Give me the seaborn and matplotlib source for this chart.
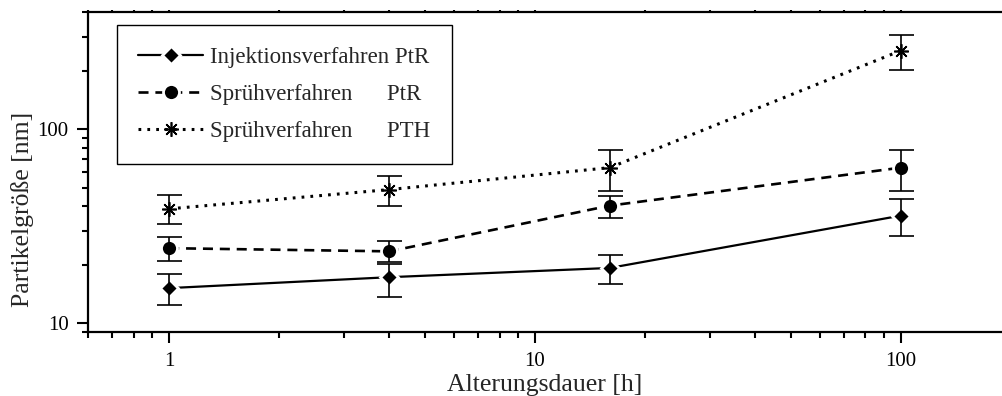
import numpy as np
import pandas as pd
import matplotlib
matplotlib.use("Agg")
import matplotlib.pyplot as plt
import seaborn as sns
from matplotlib.ticker import LogLocator, NullFormatter, FixedLocator, FixedFormatter

# Ageing time [h]
hours = [1, 4, 16, 100]

# Particle size [nm] per preparation route, with lower/upper error limits
inj_ptr = [15.2, 17.3, 19.3, 35.9]
inj_ptr_lo = [12.4, 13.7, 16.0, 28.3]
inj_ptr_hi = [17.9, 20.2, 22.6, 43.8]

spr_ptr = [24.4, 23.5, 40.4, 63.4]
spr_ptr_lo = [21.0, 20.8, 34.7, 48.0]
spr_ptr_hi = [28.0, 26.7, 45.2, 78.1]

spr_pth = [38.9, 48.9, 63.4, 254.0]
spr_pth_lo = [32.5, 40.1, 48.0, 202.0]
spr_pth_hi = [45.6, 57.3, 78.1, 307.0]

labels = ["Injektionsverfahren PtR",
          "Sprühverfahren      PtR",
          "Sprühverfahren      PTH"]

sns.set_theme(style="white")
plt.rcParams["font.family"] = ["Liberation Serif", "DejaVu Serif"]

fig = plt.figure(figsize=(10.02, 3.96), dpi=100)
ax = fig.add_axes([88 / 1002, (396 - 332.3) / 396, (1002 - 88) / 1002, 320 / 396])

series = [
    (inj_ptr, inj_ptr_lo, inj_ptr_hi, dict(marker="D", ms=9.5, mec="white", mew=2.0,
                                           linestyle="-", lw=1.6)),
    (spr_ptr, spr_ptr_lo, spr_ptr_hi, dict(marker="o", ms=11.5, mec="white", mew=2.0,
                                           linestyle=(0, (3.8, 2.6)), lw=1.9)),
    (spr_pth, spr_pth_lo, spr_pth_hi, dict(marker=(8, 2, 0), ms=10.5, mec="black", mew=1.2,
                                           linestyle=(0, (0.9, 2.0)), lw=2.2)),
]

handles = []
for (vals, lo, hi, style), lab in zip(series, labels):
    df = pd.DataFrame({"t": hours, "d": vals})
    n_before = len(ax.lines)
    sns.lineplot(data=df, x="t", y="d", ax=ax, color="black", mfc="black",
                 zorder=2, **style)
    handles.append(ax.lines[n_before])
    vals_a = np.asarray(vals)
    yerr = np.vstack([vals_a - np.asarray(lo), np.asarray(hi) - vals_a])
    ax.errorbar(hours, vals, yerr=yerr, fmt="none", ecolor="black",
                elinewidth=1.2, capsize=9, capthick=1.2, zorder=3)

ax.set_xscale("log")
ax.set_yscale("log")
ax.set_xlim(0.6, 189)
ax.set_ylim(9, 400)

ax.xaxis.set_major_locator(FixedLocator([1, 10, 100]))
ax.xaxis.set_major_formatter(FixedFormatter(["1", "10", "100"]))
ax.xaxis.set_minor_locator(LogLocator(base=10, subs=np.arange(2, 10), numticks=20))
ax.xaxis.set_minor_formatter(NullFormatter())
ax.yaxis.set_major_locator(FixedLocator([10, 100]))
ax.yaxis.set_major_formatter(FixedFormatter(["10", "100"]))
ax.yaxis.set_minor_locator(LogLocator(base=10, subs=np.arange(2, 10), numticks=20))
ax.yaxis.set_minor_formatter(NullFormatter())

for s in ["left", "bottom", "top"]:
    ax.spines[s].set_visible(True)
    ax.spines[s].set_color("black")
    ax.spines[s].set_linewidth(1.6)
ax.spines["right"].set_visible(False)

ax.tick_params(axis="both", which="major", direction="out", length=8, width=1.5,
               colors="black", labelsize=15, pad=6)
ax.tick_params(axis="both", which="minor", direction="out", length=4, width=1.5,
               colors="black")
ax.tick_params(axis="x", which="both", top=True, bottom=True)
ax.tick_params(axis="y", which="both", left=True, right=False)
for t in ax.xaxis.get_major_ticks() + ax.xaxis.get_minor_ticks():
    t.tick2line.set_markersize(1.5)

ax.set_xlabel("Alterungsdauer [h]", fontsize=18.5, labelpad=2)
ax.set_ylabel("Partikelgröße [nm]", fontsize=18.5)
ax.yaxis.set_label_coords(-0.059, 0.385)

leg = ax.legend(handles=handles, labels=labels, loc="upper left",
                bbox_to_anchor=(0.0314, 0.960), borderaxespad=0,
                fontsize=16.5, frameon=True, fancybox=False, shadow=False,
                handlelength=2.8, handletextpad=0.3, labelspacing=0.7,
                borderpad=0.95, numpoints=1)
frame = leg.get_frame()
frame.set_edgecolor("black")
frame.set_linewidth(1.0)
frame.set_alpha(1)

fig.savefig("out.png", dpi=100)
